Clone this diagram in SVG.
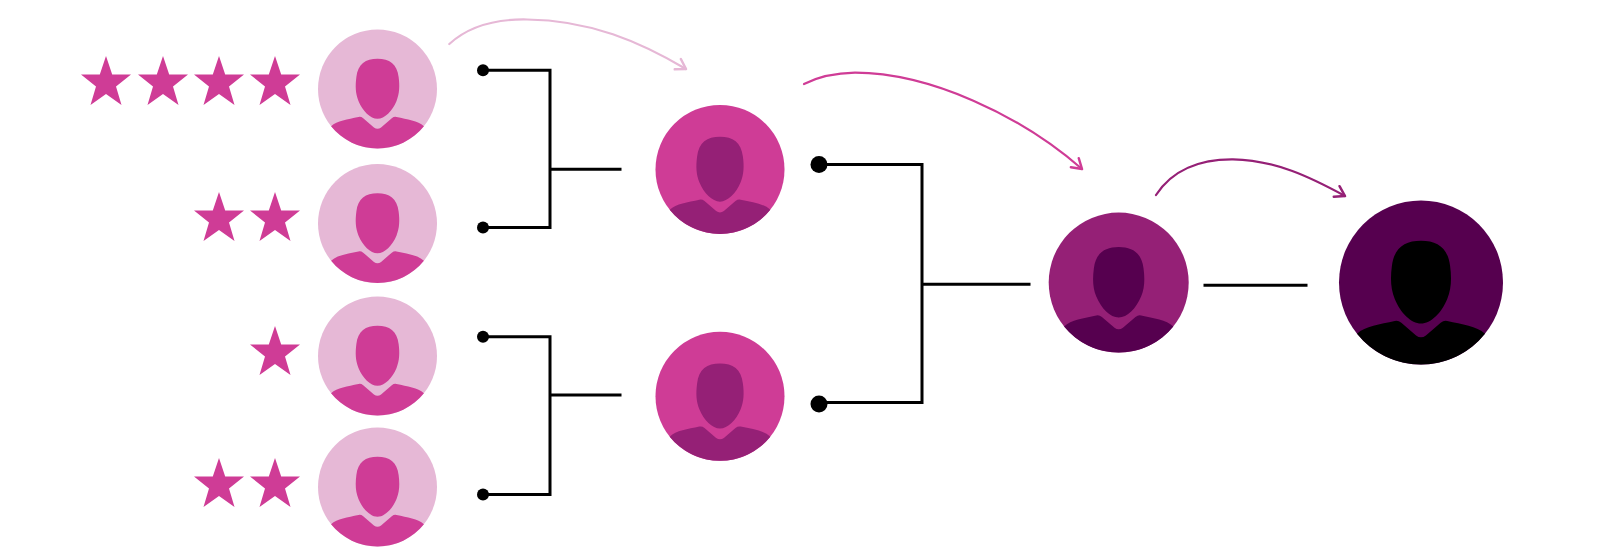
<svg xmlns="http://www.w3.org/2000/svg" width="1600" height="550" viewBox="0 0 1600 550">
<style>
.light{fill:#e6b8d6}.pink{fill:#cf3c96}.purple{fill:#952076}.dark{fill:#56004f}.black{fill:#000}
.ln{fill:none;stroke:#000;stroke-width:3;stroke-linecap:square}
.arc{fill:none;stroke-width:2.2;stroke-linecap:round}
.head{fill:none;stroke-width:2.5;stroke-linecap:round;stroke-linejoin:round}
</style>
<defs>
<g id="person">
<path d="M0,-.508C.2,-.508 .33,-.42 .355,-.2C.375,-.05 .37,.08 .32,.2C.25,.37 .12,.5 0,.5C-.12,.5 -.25,.37 -.32,.2C-.37,.08 -.375,-.05 -.355,-.2C-.33,-.42 -.2,-.508 0,-.508Z"/>
<path d="M-.78,.626C-.68,.53 -.5,.51 -.32,.47Q-.28,.46 -.24,.49L-.06,.645Q0,.69 .06,.645L.24,.49Q.28,.46 .32,.47C.5,.51 .68,.53 .78,.626A1,1 0 0 1 -.78,.626Z"/>
</g>
<polygon id="star" points="0,0 6.2,18.5 25,18.5 10,30.5 15.5,49 0,38 -15.5,49 -10,30.5 -25,18.5 -6.2,18.5"/>
<marker id="hl" markerUnits="userSpaceOnUse" markerWidth="16" markerHeight="16" refX="12.5" refY="8" orient="auto"><path class="head" stroke="#e6b8d6" d="M3,2L12.5,8L3,14"/></marker>
<marker id="hp" markerUnits="userSpaceOnUse" markerWidth="16" markerHeight="16" refX="12.5" refY="8" orient="auto"><path class="head" stroke="#cf3c96" d="M3,2L12.5,8L3,14"/></marker>
<marker id="hv" markerUnits="userSpaceOnUse" markerWidth="16" markerHeight="16" refX="12.5" refY="8" orient="auto"><path class="head" stroke="#952076" d="M3,2L12.5,8L3,14"/></marker>
</defs>
<rect width="1600" height="550" fill="#fff"/>
<g id="connectors">
<path class="ln" d="M483,70.3H550V227.5H483M550,169.3H620"/>
<path class="ln" d="M483,336.7H550V494.4H483M550,395H620"/>
<path class="ln" d="M819,164.5H922V402.5H819M922,284.3H1029"/>
<path class="ln" d="M1205,285.3H1306"/>
<circle cx="483" cy="70.3" r="6"/><circle cx="483" cy="227.5" r="6"/>
<circle cx="483" cy="336.7" r="6"/><circle cx="483" cy="494.4" r="6"/>
<circle cx="819" cy="164.5" r="8.5"/><circle cx="819" cy="404" r="8.5"/>
<path class="arc" stroke="#e6b8d6" marker-end="url(#hl)" d="M449.3,44C470,25 500,19 527,19.5C590,20 640,42 686,69"/>
<path class="arc" stroke="#cf3c96" marker-end="url(#hp)" d="M804,84C820,76 838,73 855,72.7C930,73 1020,115 1082,169"/>
<path class="arc" stroke="#952076" marker-end="url(#hv)" d="M1156,195C1172,170 1200,159 1233,159.3C1275,160 1310,177 1345,196"/>
</g>
<g id="stars-1" class="pink"><use href="#star" x="106" y="56"/><use href="#star" x="163" y="56"/><use href="#star" x="219" y="56"/><use href="#star" x="275" y="56"/></g>
<g id="stars-2" class="pink"><use href="#star" x="219" y="192"/><use href="#star" x="275" y="192"/></g>
<g id="stars-3" class="pink"><use href="#star" x="275" y="326"/></g>
<g id="stars-4" class="pink"><use href="#star" x="219" y="458"/><use href="#star" x="275" y="458"/></g>
<g id="node-1"><circle class="light" cx="377.5" cy="89" r="59.5"/><use class="pink" href="#person" transform="translate(377.5 89) scale(59.5)"/></g>
<g id="node-2"><circle class="light" cx="377.5" cy="223.5" r="59.5"/><use class="pink" href="#person" transform="translate(377.5 223.5) scale(59.5)"/></g>
<g id="node-3"><circle class="light" cx="377.5" cy="356" r="59.5"/><use class="pink" href="#person" transform="translate(377.5 356) scale(59.5)"/></g>
<g id="node-4"><circle class="light" cx="377.5" cy="487" r="59.5"/><use class="pink" href="#person" transform="translate(377.5 487) scale(59.5)"/></g>
<g id="node-5"><circle class="pink" cx="720" cy="169.4" r="64.5"/><use class="purple" href="#person" transform="translate(720 169.4) scale(64.5)"/></g>
<g id="node-6"><circle class="pink" cx="720" cy="396.3" r="64.5"/><use class="purple" href="#person" transform="translate(720 396.3) scale(64.5)"/></g>
<g id="node-7"><circle class="purple" cx="1118.7" cy="282.6" r="70"/><use class="dark" href="#person" transform="translate(1118.7 282.6) scale(70)"/></g>
<g id="node-8"><circle class="dark" cx="1421" cy="282.5" r="82"/><use class="black" href="#person" transform="translate(1421 282.5) scale(82)"/></g>
</svg>
